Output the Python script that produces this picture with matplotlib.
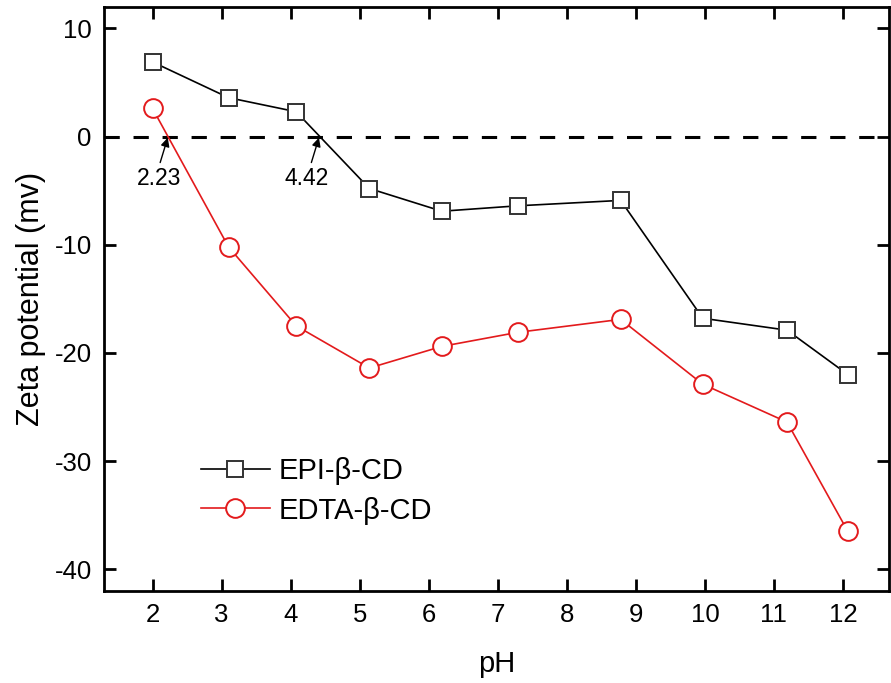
import matplotlib
matplotlib.use("Agg")
import matplotlib.pyplot as plt

ph = [2.0, 3.1, 4.08, 5.14, 6.19, 7.29, 8.78, 9.97, 11.19, 12.07]
epi_zeta = [6.9, 3.6, 2.3, -4.8, -6.9, -6.4, -5.9, -16.8, -17.9, -22.0]
edta_zeta = [2.6, -10.2, -17.5, -21.4, -19.4, -18.1, -16.9, -22.9, -26.4, -36.5]
x_ticks = [2, 3, 4, 5, 6, 7, 8, 9, 10, 11, 12]
y_ticks = [10, 0, -10, -20, -30, -40]
crossings = [2.23, 4.42]

plt.rcParams['font.family'] = ['Liberation Sans', 'DejaVu Sans']
plt.rcParams['axes.unicode_minus'] = False

fig = plt.figure(figsize=(8.91, 6.83), dpi=100)
ax = fig.add_axes([0.117, 0.135, 0.881, 0.855])

ax.axhline(0, color='black', lw=2.2, dashes=(5, 4.5), zorder=1)
ax.plot(ph, epi_zeta, color='black', lw=1.2, marker='s', ms=12,
        mfc='white', mec='#333333', mew=1.4, label='EPI-β-CD', zorder=3)
ax.plot(ph, edta_zeta, color='#e31a1c', lw=1.2, marker='o', ms=13.5,
        mfc='white', mec='#e31a1c', mew=1.4, label='EDTA-β-CD', zorder=3)

# isoelectric point annotations
for xc, xt in zip(crossings, [2.09, 4.23]):
    ax.text(xt, -3.9, f"{xc:.2f}", ha='center', va='center', fontsize=16.5)
    ax.annotate("", xy=(xc - 0.01, -0.1), xytext=(xc - 0.12, -2.4),
                arrowprops=dict(arrowstyle='-|>', color='black', lw=1.0,
                                mutation_scale=13, shrinkA=0, shrinkB=0))

ax.set_xlim(1.3, 12.67)
ax.set_ylim(-42, 12)
ax.set_xticks(x_ticks)
ax.set_yticks(y_ticks)
ax.tick_params(direction='in', length=8.5, width=2.0, top=True, right=True,
               labeltop=False, labelright=False, pad=9, labelsize=18.5)
for s in ax.spines.values():
    s.set_linewidth(2.0)

ax.set_xlabel('pH', fontsize=21, labelpad=16)
ax.set_ylabel('Zeta potential (mv)', fontsize=22, labelpad=6)

ax.legend(loc='upper left', bbox_to_anchor=(0.09, 0.274), frameon=False,
          fontsize=21, handlelength=2.35, handletextpad=0.3, labelspacing=0.4)

fig.savefig('out.png', dpi=100, facecolor='white')
